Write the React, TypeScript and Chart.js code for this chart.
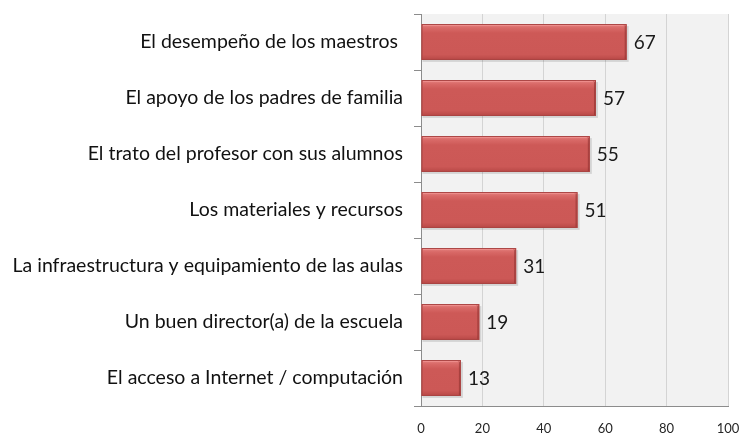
import React, { useEffect, useRef } from "react";
import { Chart, registerables } from "chart.js";

Chart.register(...registerables);

const categories = [
  "El desempeño de los maestros ",
  "El apoyo de los padres de familia",
  "El trato del profesor con sus alumnos",
  "Los materiales y recursos",
  "La infraestructura y equipamiento de las aulas",
  "Un buen director(a) de la escuela",
  "El acceso a Internet / computación",
];
const values = [67, 57, 55, 51, 31, 19, 13];
const xTicks = [0, 20, 40, 60, 80, 100];

const FONT = "Lato, 'Noto Sans', sans-serif";

const plotBg = {
  id: "plotBg",
  beforeDraw(chart: any) {
    const { ctx, chartArea } = chart;
    ctx.save();
    ctx.fillStyle = "#f2f2f2";
    ctx.fillRect(chartArea.left, chartArea.top, chartArea.right - chartArea.left, chartArea.bottom - chartArea.top);
    ctx.restore();
  },
};

const barStyle = {
  id: "barStyle",
  afterDatasetsDraw(chart: any) {
    const { ctx } = chart;
    const meta = chart.getDatasetMeta(0);
    ctx.save();
    meta.data.forEach((el: any, i: number) => {
      const p = el.getProps(["x", "y", "base", "height"], true);
      const left = Math.min(p.base, p.x);
      const right = Math.max(p.base, p.x);
      const top = p.y - p.height / 2;
      const bottom = p.y + p.height / 2;
      const h = bottom - top;
      ctx.fillStyle = "rgba(0,0,0,0.12)";
      ctx.fillRect(left + 1, top + 2, right - left + 1, h);
      const g = ctx.createLinearGradient(0, top, 0, bottom);
      g.addColorStop(0, "#e27e7c");
      g.addColorStop(0.12, "#d86866");
      g.addColorStop(0.25, "#cd5957");
      g.addColorStop(0.85, "#cc5856");
      g.addColorStop(1, "#b84846");
      ctx.fillStyle = g;
      ctx.fillRect(left, top, right - left, h);
      ctx.strokeStyle = "#a94442";
      ctx.lineWidth = 1;
      ctx.strokeRect(left + 0.5, top + 0.5, right - left - 1, h - 1);
      ctx.strokeStyle = "rgba(255,170,168,0.55)";
      ctx.beginPath();
      ctx.moveTo(left + 1.5, top + 1.5);
      ctx.lineTo(right - 3, top + 1.5);
      ctx.stroke();
      ctx.strokeStyle = "rgba(130,40,38,0.5)";
      ctx.beginPath();
      ctx.moveTo(right - 1.5, top + 2);
      ctx.lineTo(right - 1.5, bottom - 1);
      ctx.stroke();
      ctx.fillStyle = "#1a1a1a";
      ctx.font = `19px ${FONT}`;
      ctx.textAlign = "left";
      ctx.textBaseline = "middle";
      ctx.fillText(String(values[i]), right + 7, p.y + 1);
    });
    ctx.restore();
  },
};

export default function App() {
  const ref = useRef<HTMLCanvasElement | null>(null);
  useEffect(() => {
    document.body.style.margin = "0";
    if (!ref.current) return;
    const chart = new Chart(ref.current, {
      type: "bar",
      data: {
        labels: categories,
        datasets: [
          {
            data: values,
            backgroundColor: "rgba(0,0,0,0)",
            borderWidth: 0,
            categoryPercentage: 1,
            barPercentage: 0.64,
          },
        ],
      },
      options: {
        indexAxis: "y",
        responsive: false,
        animation: false,
        layout: { padding: { top: 14, right: 13, left: 0, bottom: 0 } },
        plugins: { legend: { display: false }, tooltip: { enabled: false } },
        scales: {
          x: {
            min: 0,
            max: 100,
            afterBuildTicks(scale: any) {
              scale.ticks = xTicks.map((v) => ({ value: v }));
            },
            afterFit(scale: any) {
              scale.height = 27;
              scale.paddingLeft = 0;
              scale.paddingRight = 0;
            },
            grid: { color: "#d4d4d4", drawTicks: false, lineWidth: 1 },
            border: { display: true, color: "#8c8c8c" },
            ticks: { padding: 15, color: "#262626", font: { family: FONT, size: 13 } },
          },
          y: {
            afterFit(scale: any) {
              scale.width = 421;
              scale.paddingTop = 0;
              scale.paddingBottom = 0;
            },
            grid: { offset: true, drawOnChartArea: false, tickLength: 7, color: "#8c8c8c" },
            border: { display: true, color: "#8c8c8c" },
            ticks: { padding: 11, color: "#111111", font: { family: FONT, size: 19.5 } },
          },
        },
      },
      plugins: [plotBg, barStyle],
    });
    return () => chart.destroy();
  }, []);
  return (
    <div style={{ position: "absolute", left: 0, top: 0, width: 741, height: 433 }}>
      <canvas ref={ref} width={741} height={433} style={{ width: 741, height: 433 }} />
    </div>
  );
}
